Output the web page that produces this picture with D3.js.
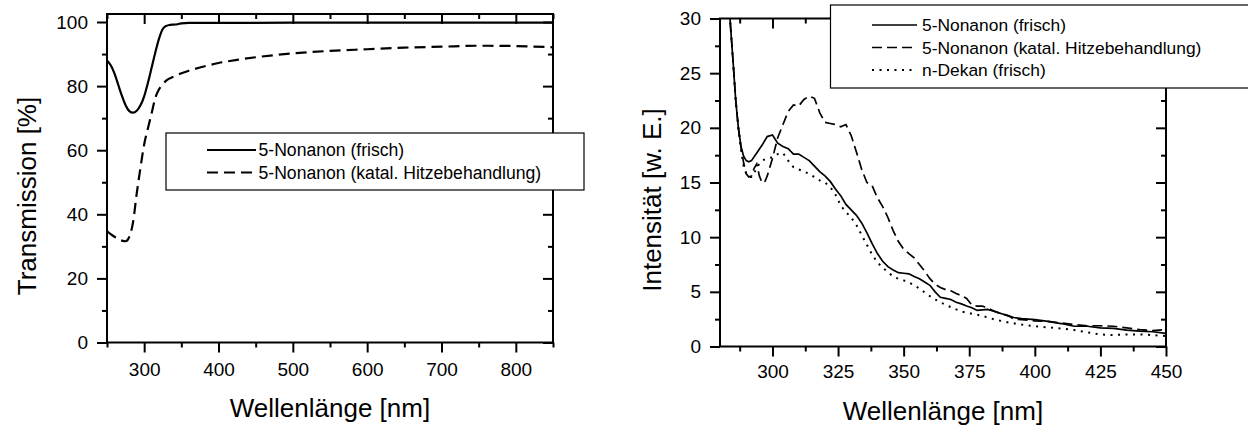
<!DOCTYPE html>
<html>
<head>
<meta charset="utf-8">
<script src="https://cdn.jsdelivr.net/npm/d3@7"></script>
<style>
  html, body { margin: 0; padding: 0; background: #fff; }
  svg { display: block; }
  text { font-family: "Liberation Sans", Arial, Helvetica, sans-serif; fill: #000; }
</style>
</head>
<body>
<svg id="chart" width="1248" height="429"></svg>
<script>
// ---------- Left chart: Transmission ----------
const transXTicks = [300, 400, 500, 600, 700, 800];
const transXMinor = [250, 350, 450, 550, 650, 750, 850];
const transYTicks = [0, 20, 40, 60, 80, 100];
const transYMinor = [10, 30, 50, 70, 90];

const transFreshWl  = [250,255,260,265,270,275,280,285,290,295,300,305,310,315,320,325,330,335,340,345,350,360,400,500,600,700,800,850];
const transFreshVal = [88,86.5,84,80.5,77,74,72.2,71.7,72.3,74,76.8,81,85.7,90.5,94.8,97.8,98.8,99.1,99.2,99.3,99.6,99.7,99.7,99.8,99.8,99.8,99.8,99.8];

const transHeatWl  = [250,255,260,265,270,275,280,285,290,295,300,305,310,315,320,325,330,340,350,360,375,400,425,450,500,550,600,650,700,750,800,850];
const transHeatVal = [34.8,33.8,33,32.3,31.8,31.6,33,37.5,46.5,54.5,61.8,66.8,71.5,76.3,79,80.6,81.8,83,84,84.8,85.8,87.2,88.2,89,90.2,91,91.5,92,92.3,92.6,92.5,92.1];

const transLegend = ["5-Nonanon (frisch)", "5-Nonanon (katal. Hitzebehandlung)"];

// ---------- Right chart: Intensity ----------
const intXTicks = [300, 325, 350, 375, 400, 425, 450];
const intXMinor = [287.5, 312.5, 337.5, 362.5, 387.5, 412.5, 437.5];
const intYTicks = [0, 5, 10, 15, 20, 25, 30];
const intYMinor = [2.5, 7.5, 12.5, 17.5, 22.5, 27.5];

const intFreshWl  = [283.5,285,286,287,288,289,290,291,292,294,296,298,300,302,304,306,308,310,312,314,316,318,320,322,324,326,328,330,332,334,336,338,340,342,344,346,348,350,352,354,356,358,360,362,364,366,368,370,372,374,376,378,380,382,384,386,388,390,392,395,400,405,410,415,420,425,430,435,440,445,450];
const intFreshVal = [31,26,22.5,20,18.3,17.4,17.0,16.9,17.0,17.7,18.4,19.2,19.35,18.6,18.3,18.1,17.6,17.6,17.3,17.0,16.5,16.0,15.6,15.1,14.4,13.8,13.0,12.5,12.0,11.3,10.4,9.4,8.5,7.8,7.3,7.0,6.75,6.7,6.65,6.4,6.2,5.9,5.6,5.0,4.5,4.4,4.3,4.05,3.9,3.7,3.55,3.3,3.35,3.4,3.25,3.1,2.95,2.8,2.65,2.55,2.45,2.3,2.1,1.85,1.85,1.7,1.65,1.5,1.4,1.35,1.2];

const intHeatWl  = [283.5,285,286,287,288,289,290,291,292,293,294,295,296,297,298,300,302,304,306,308,310,312,314,316,318,320,322,324,326,328,330,332,334,336,338,340,342,344,346,348,350,352,354,356,358,360,362,364,366,368,370,372,374,376,378,380,382,384,386,388,390,392,395,400,405,410,415,420,425,430,435,440,445,450];
const intHeatVal = [31,26,22.5,20,18.2,16.8,15.8,15.5,15.6,16.3,16.7,15.6,15.0,15.0,15.6,17.2,19.1,20.3,21.5,22.1,22.0,22.6,22.9,22.7,21.4,20.5,20.4,20.3,20.1,20.3,19.3,17.8,16.2,15.0,14.7,13.6,12.8,11.8,10.6,9.6,8.9,8.5,8.1,7.5,6.9,6.2,5.7,5.4,5.2,5.1,4.85,4.65,4.4,3.8,3.7,3.7,3.5,3.3,3.1,2.95,2.8,2.5,2.45,2.35,2.3,2.15,2.0,1.9,1.9,1.85,1.7,1.55,1.45,1.55];

const intDekanWl  = [283.5,285,286,287,288,289,290,291,292,293,294,296,298,300,302,304,306,308,310,312,314,316,318,320,322,324,326,328,330,332,334,336,338,340,342,344,346,348,350,352,354,356,358,360,362,364,366,368,370,372,374,376,378,380,385,390,395,400,405,410,415,420,425,430,435,440,445,450];
const intDekanVal = [31,26,22.5,20,18,16.5,15.8,15.5,15.5,15.8,16.4,17.0,17.2,17.3,17.6,17.7,17.0,16.4,16.2,16.0,15.8,15.5,15.2,15.0,14.6,13.9,12.9,12.3,11.8,11.1,10.2,9.3,8.4,7.7,7.2,6.8,6.4,6.2,6.05,5.85,5.6,5.3,4.95,4.6,4.3,4.05,3.8,3.6,3.4,3.2,3.1,3.0,2.9,2.8,2.45,2.2,2.0,1.85,1.75,1.65,1.5,1.3,1.1,1.05,1.1,1.1,1.05,0.95];

const intLegend = ["5-Nonanon (frisch)", "5-Nonanon (katal. Hitzebehandlung)", "n-Dekan (frisch)"];

const svg = d3.select("#chart");

function zip(xs, ys) { return xs.map((x, i) => ({x: x, y: ys[i]})); }

function drawPanel(cfg) {
  const x = d3.scaleLinear().domain(cfg.xDomain).range([cfg.left, cfg.right]);
  const y = d3.scaleLinear().domain(cfg.yDomain).range([cfg.bottom, cfg.top]);
  const g = svg.append("g");

  const clipId = "clip" + cfg.id;
  svg.append("clipPath").attr("id", clipId).append("rect")
    .attr("x", cfg.left).attr("y", cfg.top)
    .attr("width", cfg.right - cfg.left).attr("height", cfg.bottom - cfg.top);

  // curves
  const line = d3.line().x(d => x(d.x)).y(d => y(d.y)).curve(cfg.curve);
  cfg.series.forEach(s => {
    g.append("path")
      .attr("clip-path", "url(#" + clipId + ")")
      .attr("d", line(zip(s.wl, s.val)))
      .attr("fill", "none").attr("stroke", "#000")
      .attr("stroke-width", s.width)
      .attr("stroke-dasharray", s.dash || null);
  });

  function styleAxis(sel) {
    sel.select(".domain").remove();
    sel.selectAll(".tick line").attr("stroke", "#000").attr("stroke-width", 2);
    sel.selectAll(".tick text").style("font-size", cfg.tickFont + "px");
  }

  // bottom
  g.append("g").attr("transform", `translate(0,${cfg.bottom})`)
    .call(d3.axisBottom(x).tickValues(cfg.xTicks).tickSize(10).tickPadding(cfg.xPad).tickFormat(d3.format("d")))
    .call(styleAxis);
  g.append("g").attr("transform", `translate(0,${cfg.bottom})`)
    .call(d3.axisBottom(x).tickValues(cfg.xMinor).tickSize(5).tickFormat(""))
    .call(styleAxis);
  // top (inward)
  g.append("g").attr("transform", `translate(0,${cfg.top})`)
    .call(d3.axisBottom(x).tickValues(cfg.xTicks).tickSize(10).tickFormat(""))
    .call(styleAxis);
  g.append("g").attr("transform", `translate(0,${cfg.top})`)
    .call(d3.axisBottom(x).tickValues(cfg.xMinor).tickSize(5).tickFormat(""))
    .call(styleAxis);
  // left
  g.append("g").attr("transform", `translate(${cfg.left},0)`)
    .call(d3.axisLeft(y).tickValues(cfg.yTicks).tickSize(10).tickPadding(9).tickFormat(d3.format("d")))
    .call(styleAxis);
  g.append("g").attr("transform", `translate(${cfg.left},0)`)
    .call(d3.axisLeft(y).tickValues(cfg.yMinor).tickSize(5).tickFormat(""))
    .call(styleAxis);
  // right (inward)
  g.append("g").attr("transform", `translate(${cfg.right},0)`)
    .call(d3.axisLeft(y).tickValues(cfg.yTicks).tickSize(10).tickFormat(""))
    .call(styleAxis);
  g.append("g").attr("transform", `translate(${cfg.right},0)`)
    .call(d3.axisLeft(y).tickValues(cfg.yMinor).tickSize(5).tickFormat(""))
    .call(styleAxis);

  // frame
  g.append("rect")
    .attr("x", cfg.left).attr("y", cfg.top)
    .attr("width", cfg.right - cfg.left).attr("height", cfg.bottom - cfg.top)
    .attr("fill", "none").attr("stroke", "#000").attr("stroke-width", 2);

  // axis titles
  g.append("text").attr("x", (cfg.left + cfg.right) / 2).attr("y", cfg.xTitleY)
    .attr("text-anchor", "middle").style("font-size", "26px").text(cfg.xTitle);
  g.append("text")
    .attr("transform", `translate(${cfg.yTitleX},${cfg.yTitleCY}) rotate(-90)`)
    .attr("text-anchor", "middle").style("font-size", "26px").text(cfg.yTitle);

  // legend
  const L = cfg.legend;
  const lg = svg.append("g");
  lg.append("rect").attr("x", L.x).attr("y", L.y).attr("width", L.w).attr("height", L.h)
    .attr("fill", "#fff").attr("stroke", "#000").attr("stroke-width", 1.2);
  cfg.series.forEach((s, i) => {
    const cy = L.rowY[i];
    lg.append("line").attr("x1", L.lx1).attr("x2", L.lx2).attr("y1", cy).attr("y2", cy)
      .attr("stroke", "#000").attr("stroke-width", s.width)
      .attr("stroke-dasharray", s.dash || null);
    lg.append("text").attr("x", L.tx).attr("y", cy + 6.3)
      .style("font-size", L.font + "px").text(L.labels[i]);
  });
}

drawPanel({
  id: "L",
  xDomain: [250, 850], yDomain: [0, 102.5],
  left: 107, right: 553, top: 14, bottom: 342.5,
  xTicks: transXTicks, xMinor: transXMinor, yTicks: transYTicks, yMinor: transYMinor,
  tickFont: 19, xPad: 10,
  curve: d3.curveMonotoneX,
  series: [
    {wl: transFreshWl, val: transFreshVal, width: 2.2},
    {wl: transHeatWl, val: transHeatVal, width: 2.2, dash: "11,6"}
  ],
  xTitle: "Wellenlänge [nm]", xTitleY: 416.5,
  yTitle: "Transmission [%]", yTitleX: 36, yTitleCY: 196,
  legend: {x: 166, y: 133, w: 418, h: 57, rowY: [150, 172.5], lx1: 207, lx2: 256, tx: 258.5,
           font: 17.6, labels: transLegend}
});

drawPanel({
  id: "R",
  xDomain: [280, 450], yDomain: [0, 30],
  left: 720, right: 1166, top: 18.5, bottom: 346.5,
  xTicks: intXTicks, xMinor: intXMinor, yTicks: intYTicks, yMinor: intYMinor,
  tickFont: 19, xPad: 8,
  curve: d3.curveLinear,
  series: [
    {wl: intFreshWl, val: intFreshVal, width: 1.7},
    {wl: intHeatWl, val: intHeatVal, width: 1.7, dash: "10,5"},
    {wl: intDekanWl, val: intDekanVal, width: 2, dash: "2,5.5"}
  ],
  xTitle: "Wellenlänge [nm]", xTitleY: 420,
  yTitle: "Intensität [w. E.]", yTitleX: 661, yTitleCY: 200,
  legend: {x: 830.5, y: 5, w: 430, h: 83, rowY: [25, 47.5, 70], lx1: 872, lx2: 917, tx: 922,
           font: 17.4, labels: intLegend}
});
</script>
</body>
</html>
